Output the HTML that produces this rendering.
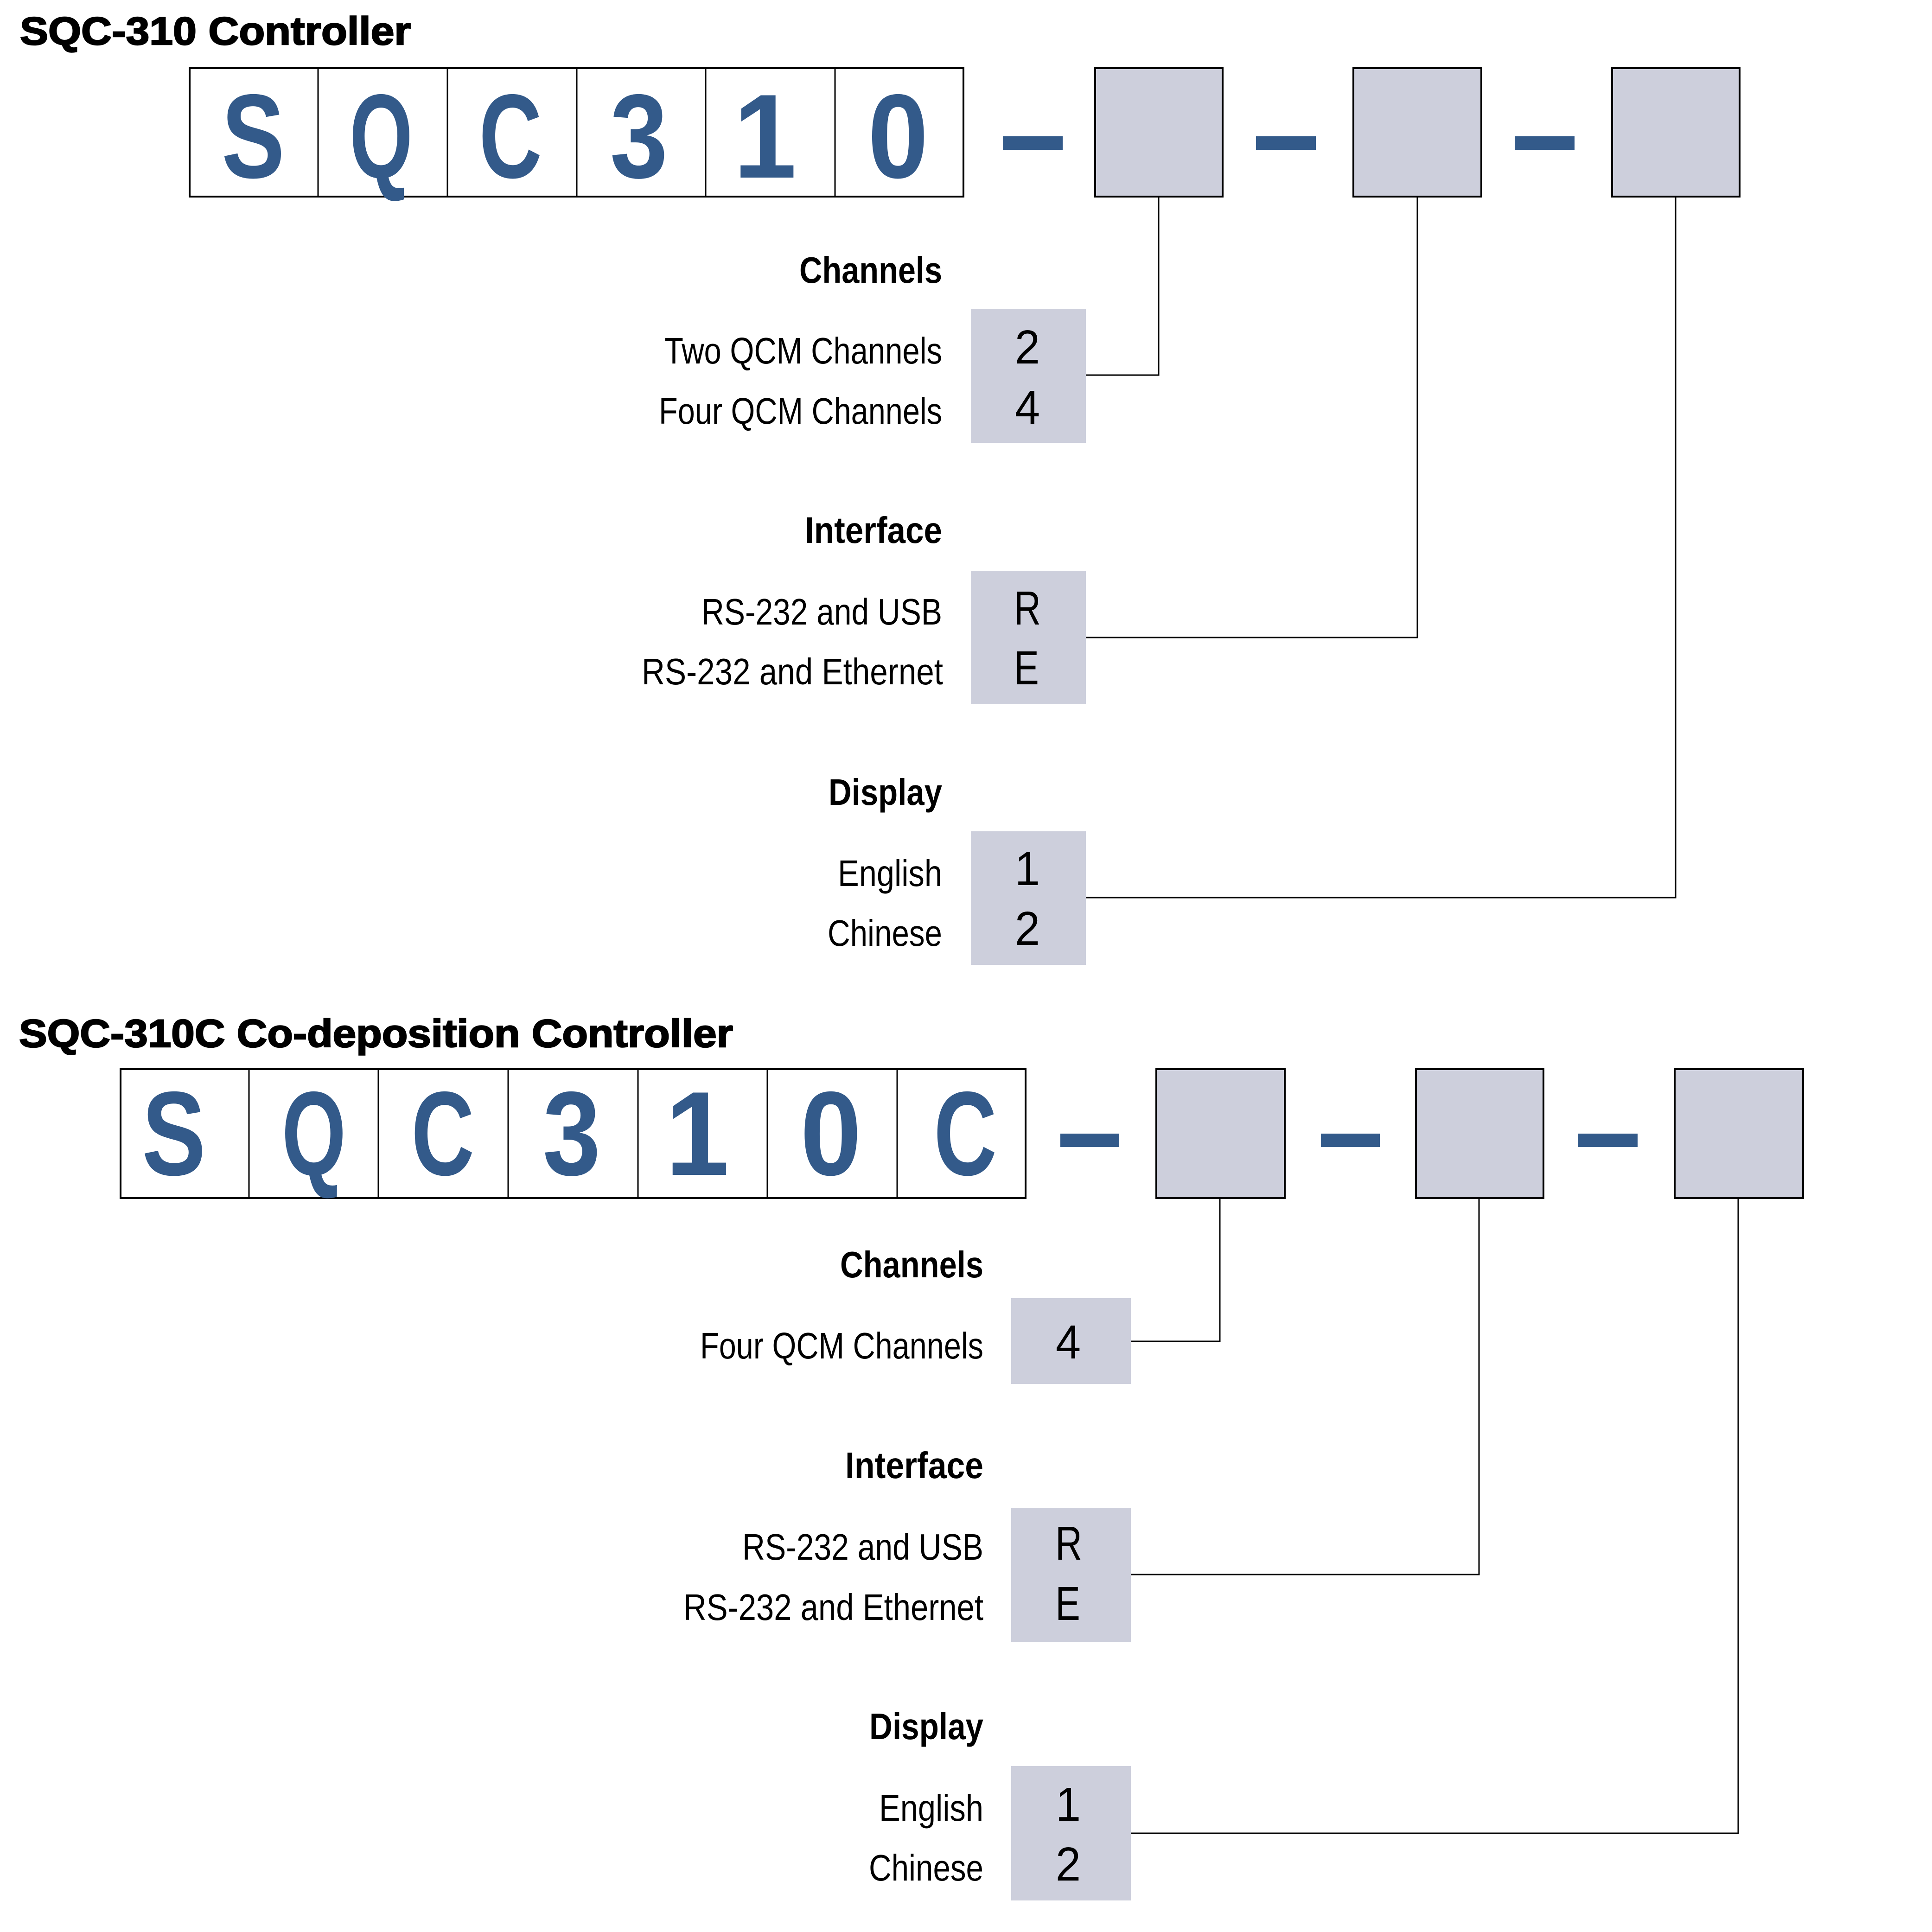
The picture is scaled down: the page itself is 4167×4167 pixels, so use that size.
<!DOCTYPE html>
<html>
<head>
<meta charset="utf-8">
<style>
  html, body { margin: 0; padding: 0; background: #ffffff; }
  body { width: 4167px; height: 4167px; overflow: hidden; }
  svg { display: block; }
  .t { font-family: "Liberation Sans", "Noto Sans CJK SC", sans-serif; }
</style>
</head>
<body>
<svg width="4167" height="4167" viewBox="0 0 4167 4167" xmlns="http://www.w3.org/2000/svg">
  <rect x="0" y="0" width="4167" height="4167" fill="#ffffff"/>

  <!-- ================= SECTION 1 ================= -->
  <text class="t" x="43" y="96" font-size="84" font-weight="bold" fill="#000" stroke="#000" stroke-width="2.5" textLength="843" lengthAdjust="spacingAndGlyphs">SQC-310 Controller</text>

  <!-- code box -->
  <rect x="409" y="147" width="1669" height="277" fill="#ffffff" stroke="#000" stroke-width="4"/>
  <g stroke="#000" stroke-width="3">
    <line x1="686" y1="147" x2="686" y2="424"/>
    <line x1="965" y1="147" x2="965" y2="424"/>
    <line x1="1244" y1="147" x2="1244" y2="424"/>
    <line x1="1522" y1="147" x2="1522" y2="424"/>
    <line x1="1801" y1="147" x2="1801" y2="424"/>
  </g>
  <g class="t" font-size="258" font-weight="bold" fill="#335a8a" text-anchor="middle">
    <text transform="translate(546,383) scale(0.79,1)">S</text>
    <text transform="translate(822,383) scale(0.68,1)">Q</text>
    <text transform="translate(1101,383) scale(0.73,1)">C</text>
    <text transform="translate(1378,383) scale(0.87,1)">3</text>
    <text transform="translate(1650,383) scale(0.95,1)">1</text>
    <text transform="translate(1937,383) scale(0.91,1)">0</text>
  </g>

  <!-- dashes -->
  <g fill="#335a8a">
    <rect x="2163" y="294" width="129" height="29"/>
    <rect x="2709" y="294" width="129" height="29"/>
    <rect x="3267" y="294" width="129" height="29"/>
  </g>

  <!-- gray code boxes -->
  <g fill="#cdcfdc" stroke="#000" stroke-width="4">
    <rect x="2362" y="147" width="275" height="277"/>
    <rect x="2919" y="147" width="276" height="277"/>
    <rect x="3477" y="147" width="275" height="277"/>
  </g>

  <!-- connectors -->
  <g fill="none" stroke="#000" stroke-width="3">
    <path d="M2499 426 V809 H2342"/>
    <path d="M3057 426 V1375 H2342"/>
    <path d="M3614 426 V1936 H2342"/>
  </g>

  <!-- option boxes -->
  <g fill="#cdcfdc">
    <rect x="2094" y="666" width="248" height="289"/>
    <rect x="2094" y="1231" width="248" height="288"/>
    <rect x="2094" y="1793" width="248" height="288"/>
  </g>

  <!-- labels section 1 -->
  <g class="t" font-size="80" fill="#000">
    <text x="1724" y="610" font-weight="bold" textLength="308" lengthAdjust="spacingAndGlyphs">Channels</text>
    <text x="1433" y="784" textLength="599" lengthAdjust="spacingAndGlyphs">Two QCM Channels</text>
    <text x="1421" y="914" textLength="611" lengthAdjust="spacingAndGlyphs">Four QCM Channels</text>
    <text x="1736" y="1171" font-weight="bold" textLength="296" lengthAdjust="spacingAndGlyphs">Interface</text>
    <text x="1513" y="1347" textLength="519" lengthAdjust="spacingAndGlyphs">RS-232 and USB</text>
    <text x="1384" y="1476" textLength="650" lengthAdjust="spacingAndGlyphs">RS-232 and Ethernet</text>
    <text x="1787" y="1736" font-weight="bold" textLength="245" lengthAdjust="spacingAndGlyphs">Display</text>
    <text x="1807" y="1911" textLength="225" lengthAdjust="spacingAndGlyphs">English</text>
    <text x="1785" y="2040" textLength="247" lengthAdjust="spacingAndGlyphs">Chinese</text>
  </g>
  <g class="t" font-size="103" fill="#000" text-anchor="middle">
    <text transform="translate(2216,784) scale(0.95,1)">2</text>
    <text transform="translate(2216,914) scale(0.95,1)">4</text>
    <text transform="translate(2216,1347) scale(0.78,1)">R</text>
    <text transform="translate(2214,1476) scale(0.78,1)">E</text>
    <text transform="translate(2216,1909) scale(0.95,1)">1</text>
    <text transform="translate(2216,2038) scale(0.95,1)">2</text>
  </g>

  <!-- ================= SECTION 2 ================= -->
  <text class="t" x="41" y="2258" font-size="84" font-weight="bold" fill="#000" stroke="#000" stroke-width="2.5" textLength="1540" lengthAdjust="spacingAndGlyphs">SQC-310C Co-deposition Controller</text>

  <rect x="260" y="2306" width="1952" height="278" fill="#ffffff" stroke="#000" stroke-width="4"/>
  <g stroke="#000" stroke-width="3">
    <line x1="537" y1="2306" x2="537" y2="2584"/>
    <line x1="816" y1="2306" x2="816" y2="2584"/>
    <line x1="1096" y1="2306" x2="1096" y2="2584"/>
    <line x1="1376" y1="2306" x2="1376" y2="2584"/>
    <line x1="1655" y1="2306" x2="1655" y2="2584"/>
    <line x1="1935" y1="2306" x2="1935" y2="2584"/>
  </g>
  <g class="t" font-size="258" font-weight="bold" fill="#335a8a" text-anchor="middle">
    <text transform="translate(375,2534) scale(0.80,1)">S</text>
    <text transform="translate(677,2534) scale(0.69,1)">Q</text>
    <text transform="translate(955,2534) scale(0.73,1)">C</text>
    <text transform="translate(1233,2534) scale(0.87,1)">3</text>
    <text transform="translate(1504,2534) scale(0.96,1)">1</text>
    <text transform="translate(1792,2534) scale(0.92,1)">0</text>
    <text transform="translate(2082,2534) scale(0.73,1)">C</text>
  </g>

  <g fill="#335a8a">
    <rect x="2287" y="2445" width="127" height="29"/>
    <rect x="2849" y="2445" width="127" height="29"/>
    <rect x="3403" y="2445" width="129" height="29"/>
  </g>

  <g fill="#cdcfdc" stroke="#000" stroke-width="4">
    <rect x="2494" y="2306" width="277" height="278"/>
    <rect x="3054" y="2306" width="275" height="278"/>
    <rect x="3612" y="2306" width="277" height="278"/>
  </g>

  <g fill="none" stroke="#000" stroke-width="3">
    <path d="M2631 2586 V2893 H2439"/>
    <path d="M3190 2586 V3396 H2439"/>
    <path d="M3749 2586 V3954 H2439"/>
  </g>

  <g fill="#cdcfdc">
    <rect x="2181" y="2800" width="258" height="185"/>
    <rect x="2181" y="3252" width="258" height="289"/>
    <rect x="2181" y="3809" width="258" height="290"/>
  </g>

  <g class="t" font-size="80" fill="#000">
    <text x="1812" y="2755" font-weight="bold" textLength="309" lengthAdjust="spacingAndGlyphs">Channels</text>
    <text x="1510" y="2930" textLength="611" lengthAdjust="spacingAndGlyphs">Four QCM Channels</text>
    <text x="1823" y="3188" font-weight="bold" textLength="298" lengthAdjust="spacingAndGlyphs">Interface</text>
    <text x="1601" y="3364" textLength="520" lengthAdjust="spacingAndGlyphs">RS-232 and USB</text>
    <text x="1474" y="3494" textLength="647" lengthAdjust="spacingAndGlyphs">RS-232 and Ethernet</text>
    <text x="1875" y="3751" font-weight="bold" textLength="246" lengthAdjust="spacingAndGlyphs">Display</text>
    <text x="1896" y="3927" textLength="225" lengthAdjust="spacingAndGlyphs">English</text>
    <text x="1874" y="4056" textLength="247" lengthAdjust="spacingAndGlyphs">Chinese</text>
  </g>
  <g class="t" font-size="103" fill="#000" text-anchor="middle">
    <text transform="translate(2304,2930) scale(0.95,1)">4</text>
    <text transform="translate(2305,3364) scale(0.78,1)">R</text>
    <text transform="translate(2303,3494) scale(0.78,1)">E</text>
    <text transform="translate(2304,3927) scale(0.95,1)">1</text>
    <text transform="translate(2304,4056) scale(0.95,1)">2</text>
  </g>
</svg>
</body>
</html>
